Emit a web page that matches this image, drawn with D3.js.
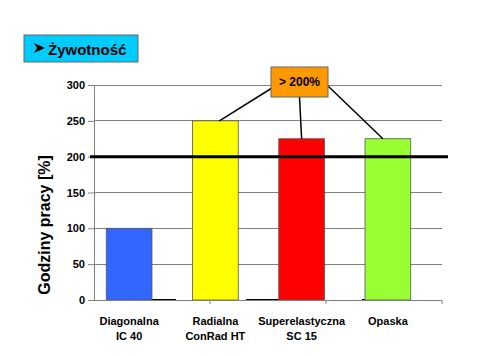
<!DOCTYPE html>
<html><head><meta charset="utf-8">
<script src="https://cdn.jsdelivr.net/npm/d3@7"></script>
<style>body{margin:0;background:#fff}svg{display:block}</style>
</head><body>
<script>
const categories = ["Diagonalna\nIC 40", "Radialna\nConRad HT", "Superelastyczna\nSC 15", "Opaska"];
const values = [100, 250, 225, 225];
const colors = ["#3366FF", "#FFFF00", "#FF0000", "#99FF33"];
const zeroSeries = [0, 0, 0];
const yTicks = [0, 50, 100, 150, 200, 250, 300];
const threshold = 200;
const titleText = "Żywotność";
const yTitle = "Godziny pracy [%]";
const noteText = "> 200%";

const W = 493, H = 356;
const svg = d3.select("body").append("svg").attr("width", W).attr("height", H);
const font = "Arial, 'Liberation Sans', sans-serif";

const y = d3.scaleLinear().domain([0, 300]).range([300, 85]);
const xAxisScale = d3.scaleBand().domain(d3.range(zeroSeries.length)).range([94, 442]).padding(0);
const x = d3.scaleBand().domain(categories).range([86, 431]).paddingInner(0.47).paddingOuter(0.235);

// gridlines
svg.append("g").selectAll("line").data(yTicks.filter(d => d > 0)).join("line")
  .attr("x1", 94).attr("x2", 442).attr("y1", d => y(d)).attr("y2", d => y(d))
  .attr("stroke", "#808080").attr("stroke-width", 1).attr("shape-rendering", "crispEdges");

// zero series (black baseline segments)
svg.append("g").selectAll("rect").data(zeroSeries).join("rect")
  .attr("x", (d, i) => xAxisScale(i) + 36).attr("width", 46)
  .attr("y", y(0) - 1).attr("height", 1.5).attr("fill", "#000");

// bars
svg.append("g").selectAll("rect").data(values).join("rect")
  .attr("x", (d, i) => x(categories[i])).attr("width", x.bandwidth())
  .attr("y", d => y(d)).attr("height", d => y(0) - y(d))
  .attr("fill", (d, i) => colors[i]).attr("stroke", "#555").attr("stroke-width", 0.8);

// y axis
const yAxis = svg.append("g").attr("transform", "translate(94,0)")
  .call(d3.axisLeft(y).tickValues(yTicks).tickSize(6).tickPadding(3));
yAxis.select(".domain").attr("stroke", "#808080");
yAxis.selectAll(".tick line").attr("stroke", "#808080");
yAxis.selectAll("text").attr("font-family", font).attr("font-weight", "bold").attr("font-size", 11).attr("fill", "#000");

// x axis line and ticks
svg.append("line").attr("x1", 94).attr("x2", 442).attr("y1", y(0)).attr("y2", y(0))
  .attr("stroke", "#808080").attr("shape-rendering", "crispEdges");
svg.append("g").selectAll("line").data(d3.range(1, zeroSeries.length + 1)).join("line")
  .attr("x1", i => 94 + i * xAxisScale.step()).attr("x2", i => 94 + i * xAxisScale.step())
  .attr("y1", y(0)).attr("y2", y(0) + 4).attr("stroke", "#808080");

// x labels
const xl = svg.append("g").selectAll("text").data(categories).join("text")
  .attr("font-family", font).attr("font-weight", "bold").attr("font-size", 11)
  .attr("text-anchor", "middle").attr("fill", "#000");
xl.each(function(d) {
  const cx = x(d) + x.bandwidth() / 2;
  d.split("\n").forEach((line, k) => {
    d3.select(this).append("tspan").attr("x", cx).attr("y", 325 + k * 15).text(line);
  });
});

// threshold line
svg.append("line").attr("x1", 90).attr("x2", 448).attr("y1", y(threshold)).attr("y2", y(threshold))
  .attr("stroke", "#000").attr("stroke-width", 3);

// y title
svg.append("text").attr("transform", "translate(50,225) rotate(-90)")
  .attr("text-anchor", "middle").attr("font-family", font).attr("font-weight", "bold")
  .attr("font-size", 16).attr("fill", "#000").text(yTitle);

// annotation connectors
const box = {x: 271, y: 67, w: 57, h: 30};
const cx = i => x(categories[i]) + x.bandwidth() / 2;
const conn = [
  [box.x + 1, box.y + 21, cx(1) + 4, y(values[1])],
  [box.x + box.w / 2, box.y + box.h, cx(2), y(values[2])],
  [box.x + box.w, box.y + 19, cx(3) - 5, y(values[3])]
];
svg.append("g").selectAll("line").data(conn).join("line")
  .attr("x1", d => d[0]).attr("y1", d => d[1]).attr("x2", d => d[2]).attr("y2", d => d[3])
  .attr("stroke", "#000").attr("stroke-width", 1.5);
svg.append("rect").attr("x", box.x).attr("y", box.y).attr("width", box.w).attr("height", box.h)
  .attr("fill", "#FF9900").attr("stroke", "#666").attr("stroke-width", 1);
svg.append("text").attr("x", box.x + box.w / 2).attr("y", box.y + 19)
  .attr("text-anchor", "middle").attr("font-family", font).attr("font-weight", "bold")
  .attr("font-size", 12).attr("fill", "#000").text(noteText);

// title box
svg.append("rect").attr("x", 24).attr("y", 35).attr("width", 114).attr("height", 27)
  .attr("fill", "#00CCFF").attr("stroke", "#666").attr("stroke-width", 1);
svg.append("path").attr("d", "M34,43 L45,48 L34,53 L37,48 Z").attr("fill", "#000");
svg.append("text").attr("x", 48).attr("y", 54.5).attr("font-family", font).attr("font-weight", "bold")
  .attr("font-size", 15).attr("fill", "#000").text(titleText);
</script>
</body></html>
